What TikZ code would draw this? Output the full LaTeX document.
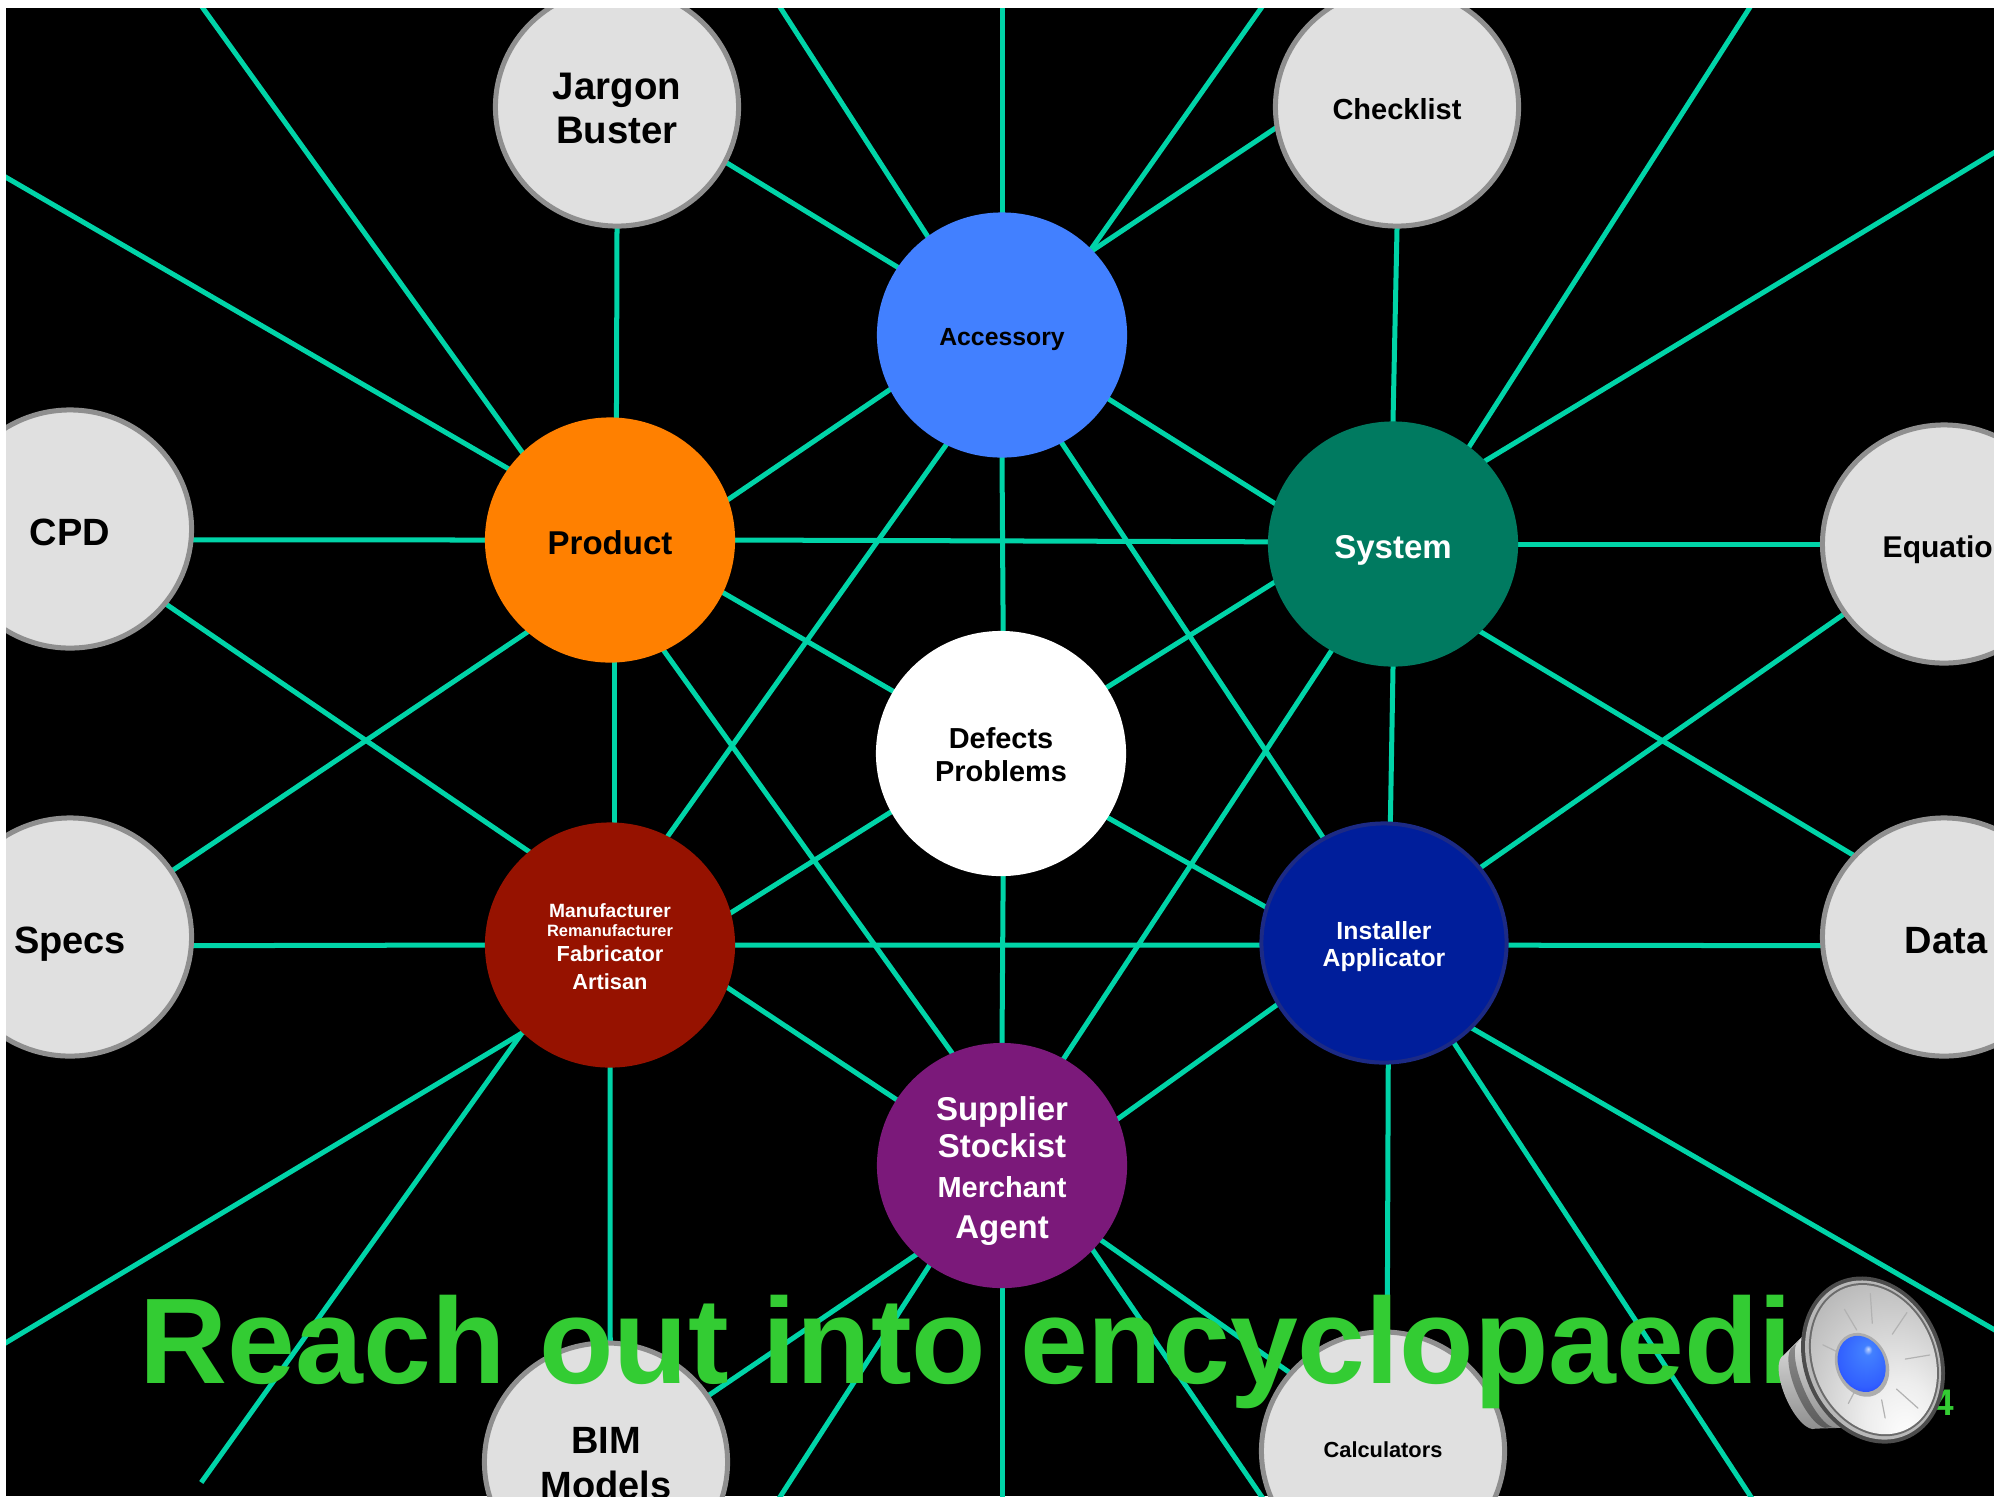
\documentclass[tikz,border=0pt]{standalone}
\usepackage{fontspec}
\setmainfont{Liberation Sans}
\usetikzlibrary{shapes.geometric}
\definecolor{teal1}{HTML}{00D4A8}
\definecolor{satfill}{HTML}{E0E0E0}
\definecolor{satline}{HTML}{8F8F8F}
\definecolor{cacc}{HTML}{4280FF}
\definecolor{cpro}{HTML}{FF8000}
\definecolor{csys}{HTML}{007A60}
\definecolor{cman}{HTML}{961200}
\definecolor{cins}{HTML}{001E9B}
\definecolor{cinb}{HTML}{1C2A85}
\definecolor{csup}{HTML}{7B197A}
\definecolor{cttl}{HTML}{33CC33}
\newdimen\pxu \pxu=0.01cm
\lineskip=0pt \normallineskip=0pt \lineskiplimit=0pt
\newcommand{\nbf}{\bfseries\baselineskip=0pt\relax}
\newcommand{\txl}[3]{{\fontsize{\the\dimexpr #1\pxu\relax}{0pt}\selectfont\rule{0pt}{\dimexpr #2\pxu\relax}\smash{#3}}}
\pgfdeclarelayer{edges}
\pgfsetlayers{edges,main}
\pgfdeclareradialshading{conesh}{\pgfpoint{12bp}{-24bp}}{color(0bp)=(white);color(12bp)=(white!93!black);color(30bp)=(white!76!black);color(50bp)=(white!55!black)}
\pgfdeclareradialshading{domesh}{\pgfpoint{6bp}{12bp}}{color(0bp)=(white!70!cacc);color(4bp)=(cacc);color(24bp)=(blue!25!cacc);color(36bp)=(blue!60!cacc);color(50bp)=(blue!60!black)}
\tikzset{
  bub/.style={ellipse,inner sep=0pt,minimum width=2.5cm,minimum height=2.45cm,align=center,text=white,font=\nbf},
  sat/.style={bub,text=black,fill=satfill,draw=satline,line width=0.05cm,minimum width=2.43cm,minimum height=2.38cm},
  conn/.style={draw=teal1,line width=0.05cm,shorten <=-0.03cm,shorten >=-0.03cm},
  spokeline/.style={draw=gray!60,line width=0.012cm,line cap=round}
}
\begin{document}
\begin{tikzpicture}[x=0.01cm,y=-0.01cm]
\useasboundingbox (0,0) rectangle (2004,1496);
% satellites
\node[sat] (jar) at (617,107) {\txl{38.4}{29.2}{Jargon}\\\txl{38.4}{43.8}{Buster}};
\node[sat] (chk) at (1397,107) {\txl{29}{24}{Checklist}};
\node[sat] (cpd) at (70,529) {\txl{38}{33}{CPD}};
\node[sat] (spc) at (70,937) {\txl{38}{32}{Specs}};
\node[sat] (equ) at (1944,544) {};
\node[sat] (dat) at (1944,937) {\hspace*{0.04cm}\txl{38}{32}{Data}};
\node[sat] (bim) at (606,1462) {\txl{38}{27}{BIM}\\\txl{38}{45}{Models}};
\node[sat] (cal) at (1383,1451) {\txl{21.8}{12}{Calculators}};
% hubs
\node[bub,fill=cacc,text=black] (acc) at (1002,335) {\txl{24.8}{21}{Accessory}};
\node[bub,fill=cpro,text=black] (pro) at (610,540) {\txl{33}{29}{Product}};
\node[bub,fill=csys] (sys) at (1393,544) {\txl{33}{29}{System}};
\node[bub,fill=white,text=black] (def) at (1001,753.5) {\txl{28.9}{23}{Defects}\\\txl{28.9}{33}{Problems}};
\node[bub,fill=cman] (man) at (610,945) {\txl{19.2}{16}{Manufacturer}\\\txl{16.4}{19}{Remanufacturer}\\\txl{21.8}{25}{Fabricator}\\\txl{21.8}{28}{Artisan}};
\node[bub,fill=cins,draw=cinb,line width=0.04cm,minimum width=2.45cm,minimum height=2.39cm] (ins) at (1384,943) {\txl{24.8}{19}{Installer}\\\txl{24.8}{27}{Applicator}};
\node[bub,fill=csup] (sup) at (1002,1165.5) {\txl{33}{28}{Supplier}\\\txl{33}{37}{Stockist}\\\txl{29}{39.5}{Merchant}\\\txl{33}{41}{Agent}};
% free ends
\coordinate (t1) at (200,4);
\coordinate (l1) at (2,175);
\coordinate (t2) at (778,4);
\coordinate (t3) at (1002,4);
\coordinate (t4) at (1264,4);
\coordinate (t5) at (1752,4);
\coordinate (r1) at (2000,149);
\coordinate (l2) at (2,1345);
\coordinate (b1) at (203,1480);
\coordinate (r2) at (2000,1333);
\coordinate (b2) at (1753,1500);
\coordinate (b3) at (778,1500);
\coordinate (b4) at (1002,1500);
\coordinate (b5) at (1264,1500);
\begin{pgfonlayer}{edges}
\fill[black] (6,8) rectangle (1994,1496);
\foreach \a/\aa/\b/\bb in {
 jar/-27.4/acc/147.8, jar/-90/pro/87, chk/190.1/acc/43.7, chk/-90.5/sys/90,
 pro/180/cpd/-5, pro/19.6/acc/206, pro/0/sys/179, pro/-25/def/150.3,
 pro/-64.5/sup/114.4, pro/-88/man/88, pro/228.4/spc/33.5,
 acc/-31.4/sys/161.8, acc/-90/def/89.7, acc/-61.3/ins/120.8, acc/243.7/man/62.4,
 sys/0/equ/180.5, sys/198.8/def/32.7, sys/-90/ins/87.6, sys/-45/dat/138.8, sys/240.3/sup/60,
 def/208.7/man/15.6, def/-31/ins/163.8, def/-89.7/sup/90,
 man/131.2/cpd/-38.7, man/180/spc/-4.2, man/-0.3/ins/181.5, man/-20/sup/148.6, man/-90/bim/88.5,
 ins/38.7/equ/215.2, ins/-1.5/dat/184.2, ins/210/sup/22.6, ins/-88/cal/88.8,
 sup/226.3/bim/33.7, sup/-37.3/cal/140}
 {\draw[conn] (\a.\aa) -- (\b.\bb);}
\foreach \a/\aa/\b in {
 acc/90/t3, acc/127/t2, acc/44.6/t4, pro/135.8/t1, pro/145.5/l1, sys/52.8/t5, sys/42.9/r1,
 man/225.8/l2, man/225.8/b1, ins/-44/r2, ins/-55/b2, sup/234.3/b3, sup/-90/b4, sup/-43.7/b5}
 {\draw[conn] (\a.\aa) -- (\b);}
\end{pgfonlayer}
% clipped label of the Equation circle
\node[anchor=base west,inner sep=0pt,font=\bfseries\fontsize{\the\dimexpr 30\pxu\relax}{0pt}\selectfont] (equt) at (1882,557) {Equatio};
% page number fragment and title
\node[anchor=base,inner sep=0pt,text=cttl,font=\bfseries\fontsize{\the\dimexpr 37\pxu\relax}{0pt}\selectfont] (pgn) at (1944,1415) {4};
\node[anchor=base west,inner sep=0pt,text=cttl,font=\bfseries\fontsize{\the\dimexpr 121.9\pxu\relax}{0pt}\selectfont\addfontfeatures{Kerning=Off}] (ttl) at (139,1383) {Reach out into encyclopaedi};
% speaker icon
\begin{scope}[shift={(1873,1360)},rotate=23.5,x=0.01cm,y=0.01cm]
  \shade[top color=white!88!black,bottom color=white!55!black] (-50,-52) -- (-80,-40) arc[start angle=270,end angle=90,x radius=15,y radius=40] -- (-50,52) -- cycle;
  \shade[top color=white!55!black,bottom color=white!35!black] (-60,47) arc[start angle=90,end angle=270,x radius=15,y radius=47] -- (-68,-44) arc[start angle=270,end angle=90,x radius=15,y radius=44] -- cycle;
  \fill[white!30!black] (0,0) ellipse[x radius=69,y radius=86];
  \fill[white!72!black] (0,0) ellipse[x radius=65,y radius=82];
  \fill[white!42!black] (1,0) ellipse[x radius=62,y radius=79];
  \shade[shading=conesh] (1,0) ellipse[x radius=60,y radius=77];
  \draw[spokeline] (-3,34) -- (-6,58);
  \draw[spokeline] (14,34) -- (24,62);
  \draw[spokeline] (28,16) -- (50,30);
  \draw[spokeline] (30,-12) -- (54,-18);
  \draw[spokeline] (10,-36) -- (22,-62);
  \draw[spokeline] (-8,-40) -- (-12,-58);
  \draw[spokeline] (-28,20) -- (-40,34);
  \draw[spokeline] (-30,-22) -- (-40,-30);
  \fill[white!68!black] (-12,0) ellipse[x radius=26,y radius=33];
  \shade[shading=domesh] (-12,1) ellipse[x radius=23,y radius=29];
\end{scope}
% white margins
\fill[white] (0,0) rectangle (2004,8);
\fill[white] (0,0) rectangle (6,1496);
\fill[white] (1994,0) rectangle (2004,1496);
\end{tikzpicture}
\end{document}
